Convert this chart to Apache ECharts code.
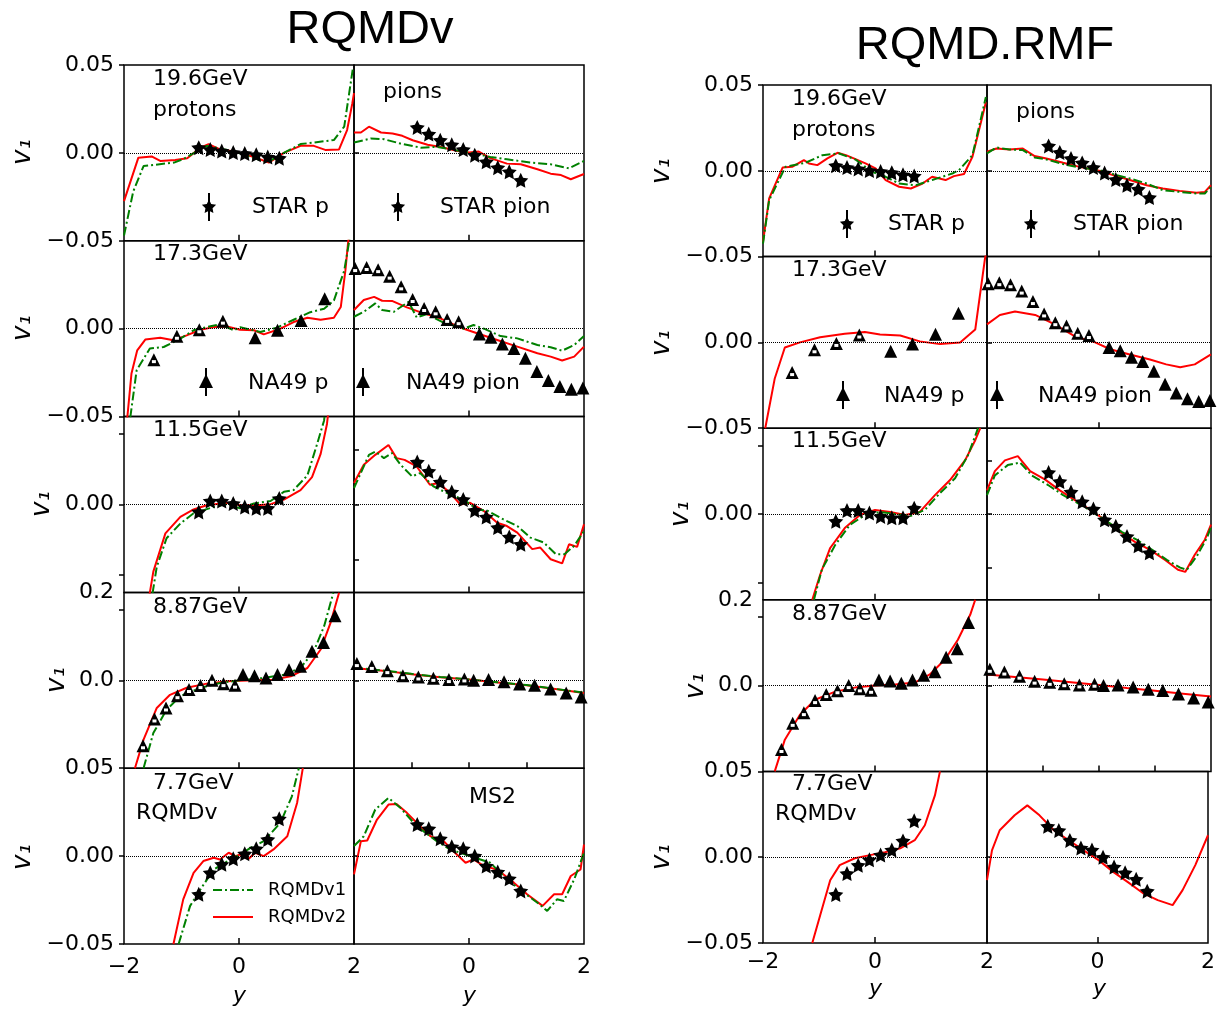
<!DOCTYPE html>
<html>
<head>
<meta charset="utf-8">
<script src="https://cdn.jsdelivr.net/npm/echarts@6/dist/echarts.min.js"></script>
<style>
  body { margin: 0; background: #fff; }
  #main { width: 1218px; height: 1009px; }
</style>
</head>
<body>
<div id="main"></div>
<script>
// ---- measured data (STAR / NA49), shared by both model panels ----
const starP196 = [[-0.7,0.003],[-0.5,0.0019],[-0.3,0.0011],[-0.1,0.0002],[0.1,-0.0004],[0.3,-0.0011],[0.5,-0.0023],[0.7,-0.003]];
const starPi196 = [[-0.9,0.0145],[-0.7,0.0107],[-0.5,0.0072],[-0.3,0.0046],[-0.1,0.0019],[0.1,-0.0013],[0.3,-0.0051],[0.5,-0.0084],[0.7,-0.0107],[0.9,-0.0156]];
const na49P173Open = [[-1.48,-0.0176],[-1.08,-0.0043],[-0.69,-0.0006],[-0.28,0.0043]];
const na49P173 = [[0.28,-0.0051],[0.67,-0.0009],[1.08,0.0047],[1.49,0.017]];
const na49Pi173Open = [[-1.98,0.0342],[-1.78,0.0348],[-1.58,0.0336],[-1.38,0.0299],[-1.18,0.0238],[-0.98,0.0166],[-0.78,0.0115],[-0.58,0.0096],[-0.38,0.0053],[-0.18,0.004]];
const na49Pi173 = [[0.18,-0.003],[0.38,-0.0049],[0.58,-0.0087],[0.78,-0.0112],[0.98,-0.0168],[1.18,-0.0244],[1.38,-0.0295],[1.58,-0.0329],[1.78,-0.0344],[1.98,-0.0338]];
const starP115 = [[-0.7,-0.0021],[-0.5,0.001],[-0.3,0.001],[-0.1,0.0003],[0.1,-0.0007],[0.3,-0.0011],[0.5,-0.0011],[0.7,0.0017]];
const starPi115 = [[-0.9,0.0193],[-0.7,0.0151],[-0.5,0.0102],[-0.3,0.0057],[-0.1,0.0023],[0.1,-0.0027],[0.3,-0.0057],[0.5,-0.0105],[0.7,-0.0148],[0.9,-0.0181]];
const na49P887Open = [[-1.67,-0.149],[-1.47,-0.088],[-1.27,-0.063],[-1.07,-0.035],[-0.87,-0.021],[-0.67,-0.012],[-0.47,0],[-0.27,-0.0076],[-0.07,-0.011]];
const na49P887 = [[0.07,0.013],[0.27,0.0106],[0.47,0.0053],[0.67,0.013],[0.87,0.024],[1.07,0.032],[1.27,0.066],[1.47,0.086],[1.67,0.147]];
const na49Pi887Open = [[-1.95,0.0095],[-1.69,0.0079],[-1.42,0.0055],[-1.15,0.0026],[-0.88,0.0019],[-0.62,0.0011],[-0.35,0.0004],[-0.08,0.0008]];
const na49Pi887 = [[0.08,0],[0.34,0.0004],[0.61,-0.0008],[0.88,-0.0021],[1.14,-0.0028],[1.42,-0.0049],[1.69,-0.0072],[1.95,-0.0095]];
const starP77 = [[-0.7,-0.0217],[-0.5,-0.0095],[-0.3,-0.0047],[-0.1,-0.0015],[0.1,0.0013],[0.3,0.0042],[0.5,0.0095],[0.7,0.0212]];
const starPi77 = [[-0.9,0.018],[-0.7,0.0155],[-0.5,0.0098],[-0.3,0.0053],[-0.1,0.0042],[0.1,0],[0.3,-0.0057],[0.5,-0.0091],[0.7,-0.0129],[0.9,-0.0198]];

// ---- RQMDv curves (v2 = red, v1 = green) ----
const vP196Red = [[-2,-0.0274],[-1.75,-0.0027],[-1.52,-0.002],[-1.37,-0.0046],[-1.11,-0.004],[-0.9,-0.003],[-0.67,0.003],[-0.53,0.005],[-0.33,0.002],[-0.1,0.001],[0.26,-0.0023],[0.52,-0.0055],[0.78,0],[1.07,0.004],[1.3,0.004],[1.5,0.0017],[1.74,0.002],[1.88,0.013],[1.97,0.028],[2,0.034]];
const vP196Green = [[-2,-0.047],[-1.84,-0.022],[-1.66,-0.0075],[-1.13,-0.0055],[-0.97,-0.0035],[-0.56,0.004],[-0.1,0.001],[0.49,-0.0055],[0.78,0],[1.07,0.005],[1.65,0.0073],[1.83,0.015],[1.98,0.048]];
const vPi196Red = [[-2,0.0116],[-1.88,0.0116],[-1.74,0.0149],[-1.53,0.0116],[-1.33,0.011],[-1.16,0.0097],[-0.98,0.0072],[-0.72,0.0046],[-0.49,0.0034],[-0.2,0.0011],[0,0.0002],[0.17,0.0008],[0.37,-0.003],[0.66,-0.0061],[0.9,-0.0065],[1.19,-0.0093],[1.42,-0.0118],[1.6,-0.0126],[1.77,-0.015],[2,-0.012]];
const vPi196Green = [[-2,0.0059],[-1.71,0.0082],[-1.48,0.0078],[-1.19,0.0053],[-0.84,0.003],[-0.56,0.0034],[-0.33,0.0021],[0,0.0002],[0.37,-0.0023],[0.66,-0.0036],[1.06,-0.0055],[1.42,-0.0065],[1.74,-0.0088],[2,-0.0046]];
const vP173Red = [[-1.97,-0.06],[-1.87,-0.0255],[-1.77,-0.0123],[-1.63,-0.0062],[-1.37,-0.0051],[-1.14,-0.0066],[-0.91,-0.0038],[-0.67,-0.0006],[-0.44,0.0009],[-0.21,0.0013],[0.02,-0.0006],[0.26,-0.0009],[0.43,-0.0032],[0.72,0],[0.95,0.0038],[1.19,0.0062],[1.42,0.0051],[1.65,0.0062],[1.77,0.0123],[1.85,0.033],[1.93,0.06]];
const vP173Green = [[-1.93,-0.06],[-1.78,-0.0236],[-1.55,-0.0113],[-1.31,-0.0104],[-1.02,-0.0057],[-0.79,-0.0009],[-0.56,0.0009],[-0.33,0.0025],[-0.09,-0.0009],[0.02,0.0009],[0.37,-0.0019],[0.66,0.0006],[0.95,0.0051],[1.24,0.0094],[1.48,0.0113],[1.65,0.016],[1.83,0.033],[1.97,0.06]];
const vPi173Red = [[-2,0.0106],[-1.83,0.0163],[-1.65,0.0181],[-1.51,0.0159],[-1.33,0.0157],[-1.08,0.0121],[-0.79,0.0087],[-0.5,0.0059],[-0.27,0.0025],[-0.09,0],[0.14,-0.0026],[0.49,-0.0064],[0.84,-0.0102],[1.19,-0.014],[1.42,-0.0159],[1.62,-0.0181],[1.83,-0.0159],[2,-0.0102]];
const vPi173Green = [[-2,0.0068],[-1.83,0.0096],[-1.63,0.0144],[-1.51,0.0106],[-1.31,0.0096],[-1.05,0.0153],[-0.91,0.0064],[-0.73,0.0083],[-0.44,0.0034],[-0.09,0],[0.08,0.0021],[0.26,0],[0.55,-0.0042],[0.84,-0.0055],[1.19,-0.0093],[1.42,-0.0106],[1.62,-0.0125],[1.83,-0.0093],[2,-0.0042]];
const vP115Red = [[-1.6,-0.03],[-1.49,-0.0191],[-1.28,-0.0082],[-1.02,-0.0035],[-0.79,-0.0014],[-0.56,-0.0002],[-0.21,0.0005],[0.02,-0.0002],[0.31,-0.0002],[0.55,0.0001],[0.78,0.0014],[1.07,0.0041],[1.27,0.0078],[1.42,0.0144],[1.53,0.0229],[1.58,0.03]];
const vP115Green = [[-1.55,-0.03],[-1.43,-0.0177],[-1.26,-0.0096],[-1.02,-0.0054],[-0.79,-0.0025],[-0.44,-0.0007],[-0.21,0.0001],[0.02,-0.0011],[0.26,0.0003],[0.55,0.001],[0.78,0.0036],[0.95,0.0041],[1.19,0.0083],[1.36,0.0173],[1.48,0.0239],[1.52,0.03]];
const vPi115Red = [[-2,0.0098],[-1.83,0.0181],[-1.63,0.0226],[-1.4,0.0271],[-1.26,0.0211],[-1.12,0.0203],[-0.91,0.0173],[-0.68,0.009],[-0.53,0.0098],[-0.33,0.0053],[-0.15,0],[0.02,0.0008],[0.26,-0.003],[0.49,-0.0083],[0.66,-0.0098],[0.84,-0.0128],[1.1,-0.0203],[1.24,-0.0196],[1.42,-0.0249],[1.62,-0.0268],[1.74,-0.0181],[1.88,-0.0193],[2,-0.009]];
const vPi115Green = [[-2,0.0075],[-1.74,0.0226],[-1.63,0.0241],[-1.48,0.0211],[-1.34,0.0234],[-1.19,0.0181],[-0.99,0.0128],[-0.85,0.0143],[-0.62,0.0083],[-0.33,0.0045],[-0.09,0.0023],[0.14,-0.0023],[0.31,-0.0027],[0.6,-0.0068],[0.84,-0.0098],[1.07,-0.0151],[1.3,-0.0173],[1.51,-0.0226],[1.66,-0.0226],[1.83,-0.0188],[2,-0.0121]];
const vP887Red = [[-1.81,-0.2],[-1.66,-0.135],[-1.43,-0.063],[-1.2,-0.033],[-0.91,-0.017],[-0.56,-0.0076],[-0.21,-0.0023],[0.26,0],[0.6,0.0015],[0.9,0.0091],[1.19,0.028],[1.42,0.07],[1.59,0.13],[1.74,0.199]];
const vP887Green = [[-1.66,-0.2],[-1.49,-0.12],[-1.26,-0.067],[-1.02,-0.036],[-0.67,-0.017],[-0.33,-0.006],[0.02,0],[0.43,0.0053],[0.78,0.0129],[1.07,0.028],[1.3,0.066],[1.48,0.123],[1.64,0.199]];
const vPi887Red = [[-2,0.007],[-1.5,0.0055],[-1,0.0035],[-0.5,0.0018],[0,0.0004],[0.5,-0.0012],[1,-0.0028],[1.5,-0.005],[2,-0.0072]];
const vPi887Green = [[-2,0.0072],[-1.5,0.0056],[-1,0.0037],[-0.5,0.0019],[0,0.0005],[0.5,-0.0011],[1,-0.0027],[1.5,-0.0049],[2,-0.007]];
const vP77Red = [[-1.14,-0.05],[-0.97,-0.0246],[-0.79,-0.0095],[-0.62,-0.0028],[-0.44,-0.0009],[-0.33,-0.0019],[-0.18,0.0019],[-0.06,0],[0.02,0.0009],[0.17,-0.0015],[0.28,0.0019],[0.43,0],[0.6,0.0038],[0.84,0.0113],[1.01,0.0302],[1.11,0.05]];
const vP77Green = [[-1.05,-0.05],[-0.85,-0.0283],[-0.67,-0.0189],[-0.44,-0.0076],[-0.15,-0.0019],[0.02,0.0009],[0.2,0.0047],[0.43,0.0085],[0.72,0.0189],[0.92,0.034],[1.04,0.05]];
const vPi77Red = [[-2,-0.0104],[-1.88,0.0085],[-1.77,0.0089],[-1.6,0.0208],[-1.4,0.0293],[-1.26,0.0297],[-1.08,0.0246],[-0.85,0.017],[-0.67,0.0113],[-0.44,0.0085],[-0.27,0.0028],[-0.06,-0.0038],[0.08,-0.0019],[0.26,-0.0057],[0.49,-0.0076],[0.78,-0.0151],[1.01,-0.0217],[1.28,-0.0283],[1.48,-0.0217],[1.62,-0.0217],[1.77,-0.0113],[1.94,-0.0076],[2,0.0066]];
const vPi77Green = [[-2,0.0057],[-1.83,0.0113],[-1.63,0.0265],[-1.4,0.0331],[-1.19,0.0274],[-0.91,0.017],[-0.56,0.0085],[-0.33,0.0038],[0.02,0],[0.37,-0.0038],[0.66,-0.0132],[0.95,-0.0208],[1.19,-0.0265],[1.36,-0.0312],[1.53,-0.0246],[1.65,-0.0255],[1.83,-0.0132],[2,0.0019]];

// ---- RQMD.RMF curves ----
const rP196Red = [[-2,-0.0414],[-1.89,-0.0161],[-1.65,0.0019],[-1.48,0.0023],[-1.27,0.0062],[-1.18,0.0043],[-1.03,0.0033],[-0.85,0.0072],[-0.67,0.0105],[-0.52,0.0091],[-0.38,0.0072],[-0.17,0.0043],[0.01,0.0014],[0.19,-0.0054],[0.43,-0.0093],[0.64,-0.0103],[0.85,-0.0074],[1.02,-0.0035],[1.26,-0.0054],[1.41,-0.0031],[1.59,-0.0019],[1.74,0.0082],[1.98,0.04]];
const rP196Green = [[-2,-0.0424],[-1.89,-0.0171],[-1.6,0.0023],[-1.24,0.0047],[-0.94,0.0091],[-0.64,0.0101],[-0.35,0.0066],[-0.05,-0.0006],[0.19,-0.0035],[0.43,-0.0074],[0.73,-0.0084],[1.02,-0.0054],[1.38,-0.0016],[1.5,0.0004],[1.74,0.0091],[1.98,0.043]];
const rPi196Red = [[-2,0.0111],[-1.83,0.013],[-1.6,0.0124],[-1.36,0.013],[-1.15,0.0086],[-0.94,0.0072],[-0.64,0.0047],[-0.35,0.0023],[0,0],[0.25,-0.0025],[0.55,-0.0054],[0.85,-0.0084],[1.14,-0.0103],[1.44,-0.0117],[1.74,-0.0128],[1.89,-0.0123],[2,-0.0084]];
const rPi196Green = [[-2,0.0101],[-1.83,0.0136],[-1.6,0.0124],[-1.36,0.0121],[-1.15,0.0078],[-0.94,0.0066],[-0.64,0.0039],[-0.35,0.0019],[0,0.0004],[0.25,-0.0019],[0.55,-0.0045],[0.85,-0.0074],[1.14,-0.0113],[1.44,-0.0123],[1.74,-0.0132],[1.89,-0.0132],[2,-0.0093]];
const rP173Red = [[-1.96,-0.05],[-1.79,-0.021],[-1.61,-0.003],[-1.34,0],[-0.98,0.003],[-0.54,0.005],[-0.18,0.006],[0.09,0.0046],[0.45,0.004],[0.8,0.0006],[1.16,-0.001],[1.52,0],[1.79,0.0075],[1.96,0.048],[2,0.055]];
const rPi173Red = [[-2,0.0105],[-1.77,0.016],[-1.5,0.018],[-1.14,0.016],[-0.79,0.0105],[-0.43,0.0035],[-0.07,0],[0.2,-0.004],[0.55,-0.007],[0.91,-0.01],[1.2,-0.0128],[1.45,-0.0145],[1.71,-0.0128],[2,-0.007]];
const rP115Red = [[-1.12,-0.025],[-0.98,-0.0177],[-0.8,-0.0099],[-0.54,-0.0041],[-0.27,-0.0003],[0,0.0012],[0.27,0.0006],[0.54,-0.0003],[0.8,0.0006],[1.07,0.0055],[1.34,0.0099],[1.61,0.0157],[1.79,0.0215],[1.88,0.025]];
const rP115Green = [[-1.09,-0.025],[-0.95,-0.0162],[-0.71,-0.009],[-0.45,-0.0032],[-0.18,-0.0003],[0.09,0.0006],[0.36,0],[0.63,-0.0006],[0.89,0.0012],[1.16,0.0061],[1.43,0.0104],[1.66,0.0171],[1.84,0.025]];
const rPi115Red = [[-2,0.011],[-1.86,0.02],[-1.68,0.025],[-1.45,0.027],[-1.23,0.02],[-0.96,0.016],[-0.7,0.011],[-0.43,0.0065],[-0.16,0.002],[0.11,-0.0028],[0.38,-0.0084],[0.64,-0.013],[0.91,-0.0167],[1.18,-0.0214],[1.41,-0.026],[1.54,-0.027],[1.71,-0.019],[1.89,-0.012],[2,-0.005]];
const rPi115Green = [[-2,0.0088],[-1.86,0.018],[-1.63,0.0228],[-1.41,0.024],[-1.2,0.018],[-0.91,0.0135],[-0.64,0.0088],[-0.38,0.0051],[-0.11,0.0009],[0.16,-0.0037],[0.41,-0.0084],[0.68,-0.0121],[0.95,-0.0167],[1.21,-0.0214],[1.45,-0.025],[1.57,-0.026],[1.75,-0.0195],[1.93,-0.011],[2,-0.006]];
const rP887Red = [[-1.79,-0.2],[-1.61,-0.126],[-1.34,-0.068],[-1.07,-0.033],[-0.71,-0.014],[-0.36,-0.0047],[0,0],[0.36,0.0023],[0.71,0.007],[0.98,0.026],[1.25,0.061],[1.48,0.107],[1.7,0.165],[1.79,0.2]];
const rPi887Red = [[-2,0.0064],[-1.5,0.005],[-1,0.0035],[-0.5,0.0019],[0,0.0003],[0.5,-0.0014],[1,-0.003],[1.5,-0.0047],[2,-0.0064]];
const rP77Red = [[-1.12,-0.05],[-0.98,-0.034],[-0.8,-0.0134],[-0.63,-0.0046],[-0.36,-0.0006],[-0.09,0.0012],[0.18,0.0029],[0.45,0.0052],[0.71,0.0099],[0.89,0.0186],[1.07,0.036],[1.16,0.05]];
const rPi77Red = [[-2,-0.0134],[-1.91,0.004],[-1.77,0.0157],[-1.5,0.0244],[-1.27,0.0302],[-1.05,0.0244],[-0.79,0.0157],[-0.52,0.0099],[-0.25,0.004],[0.02,-0.0017],[0.29,-0.0087],[0.55,-0.0145],[0.82,-0.0209],[1.09,-0.025],[1.36,-0.0279],[1.54,-0.0192],[1.77,-0.0046],[2,0.0128]];

// axis ranges (half-width of v1 axis) per row, [left col, right col]
const yHalf = [[0.05, 0.05], [0.05, 0.05], [0.025, 0.04], [0.2, 0.05], [0.05, 0.05]];
const yLabelVals = [[0.05, 0, -0.05], [0, -0.05], [0], [0.2, 0], [0.05, 0, -0.05]];
const yTickVals = [[0.05, 0, -0.05], [0, -0.05], [-0.02, 0, 0.02], [0.16, 0], [0.05, 0, -0.05]];
const yRightTicks = [[0], [0], [-0.025, 0, 0.025], [0], [0]];

const cells = [
  { p: 0, r: 0, c: 0, red: vP196Red, green: vP196Green, pts: starP196, sym: 'star' },
  { p: 0, r: 0, c: 1, red: vPi196Red, green: vPi196Green, pts: starPi196, sym: 'star' },
  { p: 0, r: 1, c: 0, red: vP173Red, green: vP173Green, open: na49P173Open, pts: na49P173, sym: 'tri' },
  { p: 0, r: 1, c: 1, red: vPi173Red, green: vPi173Green, open: na49Pi173Open, pts: na49Pi173, sym: 'tri' },
  { p: 0, r: 2, c: 0, red: vP115Red, green: vP115Green, pts: starP115, sym: 'star' },
  { p: 0, r: 2, c: 1, red: vPi115Red, green: vPi115Green, pts: starPi115, sym: 'star' },
  { p: 0, r: 3, c: 0, red: vP887Red, green: vP887Green, open: na49P887Open, pts: na49P887, sym: 'tri' },
  { p: 0, r: 3, c: 1, red: vPi887Red, green: vPi887Green, open: na49Pi887Open, pts: na49Pi887, sym: 'tri' },
  { p: 0, r: 4, c: 0, red: vP77Red, green: vP77Green, pts: starP77, sym: 'star' },
  { p: 0, r: 4, c: 1, red: vPi77Red, green: vPi77Green, pts: starPi77, sym: 'star' },
  { p: 1, r: 0, c: 0, red: rP196Red, green: rP196Green, pts: starP196, sym: 'star' },
  { p: 1, r: 0, c: 1, red: rPi196Red, green: rPi196Green, pts: starPi196, sym: 'star' },
  { p: 1, r: 1, c: 0, red: rP173Red, open: na49P173Open, pts: na49P173, sym: 'tri' },
  { p: 1, r: 1, c: 1, red: rPi173Red, open: na49Pi173Open, pts: na49Pi173, sym: 'tri' },
  { p: 1, r: 2, c: 0, red: rP115Red, green: rP115Green, pts: starP115, sym: 'star' },
  { p: 1, r: 2, c: 1, red: rPi115Red, green: rPi115Green, pts: starPi115, sym: 'star' },
  { p: 1, r: 3, c: 0, red: rP887Red, open: na49P887Open, pts: na49P887, sym: 'tri' },
  { p: 1, r: 3, c: 1, red: rPi887Red, open: na49Pi887Open, pts: na49Pi887, sym: 'tri' },
  { p: 1, r: 4, c: 0, red: rP77Red, pts: starP77, sym: 'star' },
  { p: 1, r: 4, c: 1, red: rPi77Red, pts: starPi77, sym: 'star' }
];

const layout = [
  { left: 124, colW: 230, top: 65, h: 175.8, xMargin: 12 },
  { left: 763, colW: 224, top: 85, h: 171.6, xMargin: 8 }
];

const FONT = 'DejaVu Sans';
// five-point star outline, unit radius 10
const STAR_PTS = [[0,-10],[2.94,-4.05],[9.51,-3.09],[4.76,1.55],[5.88,8.09],[0,5],[-5.88,8.09],[-4.76,1.55],[-9.51,-3.09],[-2.94,-4.05]];
const STAR = 'path://M' + STAR_PTS.map(p => p.join(',')).join('L') + 'Z';
const minus = v => (v < -1e-9 ? '\u2212' : '') + Math.abs(v);
const fmtY = dec => v => (v < -1e-9 ? '\u2212' : '') + Math.abs(v).toFixed(dec);

const grids = [], xAxes = [], yAxes = [], series = [];
cells.forEach((cell, i) => {
  const L = layout[cell.p];
  grids.push({
    left: L.left + cell.c * L.colW, top: L.top + cell.r * L.h,
    width: L.colW, height: L.h,
    show: true, borderColor: '#000', borderWidth: 1.5
  });
  const lastRow = cell.r === 4;
  xAxes.push({
    gridIndex: i, type: 'value', min: -2, max: 2,
    splitLine: { show: false }, axisLine: { show: false, onZero: false },
    axisTick: {
      show: true, inside: true, length: 6,
      customValues: (cell.r === 3 && cell.c === 1) ? [-1, 0, 1] : [0],
      lineStyle: { color: '#000', width: 1.5 }
    },
    axisLabel: lastRow ? {
      show: true, customValues: cell.c === 0 ? [-2, 0, 2] : [0, 2],
      formatter: minus, fontSize: 22, color: '#000', fontFamily: FONT, margin: L.xMargin
    } : { show: false }
  });
  const h = yHalf[cell.r][cell.c];
  yAxes.push({
    gridIndex: i, type: 'value', min: -h, max: h,
    splitLine: { show: false }, axisLine: { show: false, onZero: false },
    axisTick: {
      show: true, inside: cell.c === 1, length: 5,
      customValues: cell.c === 0 ? yTickVals[cell.r] : yRightTicks[cell.r],
      lineStyle: { color: '#000', width: 1.5 }
    },
    axisLabel: cell.c === 0 ? {
      show: true, customValues: yLabelVals[cell.r],
      formatter: fmtY(cell.r === 3 ? 1 : 2),
      fontSize: 22, color: '#000', fontFamily: FONT, margin: 10
    } : { show: false }
  });

  series.push({
    type: 'line', xAxisIndex: i, yAxisIndex: i, data: cell.red,
    showSymbol: false, z: 3,
    lineStyle: { color: '#ff0000', width: 2 },
    markLine: {
      silent: true, symbol: ['none', 'none'], label: { show: false },
      lineStyle: { color: '#000', type: 'dotted', width: 1 },
      data: [{ yAxis: 0 }]
    }
  });
  if (cell.green) {
    series.push({
      type: 'line', xAxisIndex: i, yAxisIndex: i, data: cell.green,
      showSymbol: false, z: 3,
      lineStyle: { color: '#008000', width: 2, type: [9, 3, 2, 3] }
    });
  }
  const symbol = cell.sym === 'star' ? STAR : 'triangle';
  const size = cell.sym === 'star' ? 15 : 13;
  if (cell.open) {
    // reflected points: dark triangle with a small white core
    series.push({
      type: 'scatter', xAxisIndex: i, yAxisIndex: i, data: cell.open,
      symbol, symbolSize: size, z: 4,
      itemStyle: { color: '#000', opacity: 1 }
    });
    series.push({
      type: 'scatter', xAxisIndex: i, yAxisIndex: i, data: cell.open,
      symbol: 'rect', symbolSize: [4, 3], symbolOffset: [0, 2], z: 5,
      itemStyle: { color: '#fff', opacity: 1 }
    });
  }
  series.push({
    type: 'scatter', xAxisIndex: i, yAxisIndex: i, data: cell.pts,
    symbol, symbolSize: size, z: 4,
    itemStyle: { color: '#000', opacity: 1 }
  });
});

// ---- text and in-axes legends ----
const graphic = [];
const txt = (x, y, s, size, font) => graphic.push({
  type: 'text', silent: true,
  style: { text: s, x, y, font: font || (size + 'px "' + FONT + '"'), fill: '#000', textAlign: 'left', textVerticalAlign: 'middle' }
});
const vlabel = (x, y) => graphic.push({
  type: 'text', silent: true, x, y, rotation: Math.PI / 2,
  style: { text: 'v\u2081', x: 0, y: 0, font: 'italic 26px "' + FONT + '"', fill: '#000', textAlign: 'center', textVerticalAlign: 'middle' }
});
const errBar = (cx, cy) => graphic.push({ type: 'line', silent: true, shape: { x1: cx, y1: cy - 14, x2: cx, y2: cy + 14 }, style: { stroke: '#000', lineWidth: 2 } });
const starLegend = (cx, cy) => {
  errBar(cx, cy);
  graphic.push({ type: 'polygon', silent: true, shape: { points: STAR_PTS.map(p => [cx + p[0] * 0.75, cy + p[1] * 0.75]) }, style: { fill: '#000' } });
};
const triLegend = (cx, cy) => {
  errBar(cx, cy);
  graphic.push({ type: 'polygon', silent: true, shape: { points: [[cx, cy - 8], [cx - 7, cy + 6], [cx + 7, cy + 6]] }, style: { fill: '#000' } });
};

// titles
graphic.push({ type: 'text', silent: true, style: { text: 'RQMDv', x: 370, y: 30, font: '47px "Liberation Sans"', fill: '#000', textAlign: 'center', textVerticalAlign: 'middle' } });
graphic.push({ type: 'text', silent: true, style: { text: 'RQMD.RMF', x: 985, y: 46, font: '47px "Liberation Sans"', fill: '#000', textAlign: 'center', textVerticalAlign: 'middle' } });

// left panel texts
txt(153, 79, '19.6GeV', 22); txt(153, 110, 'protons', 22); txt(383, 92, 'pions', 22);
starLegend(209, 207); txt(252, 207, 'STAR p', 22);
starLegend(398, 207); txt(440, 207, 'STAR pion', 22);
txt(153, 254, '17.3GeV', 22);
triLegend(206, 382); txt(248, 383, 'NA49 p', 22);
triLegend(363, 382); txt(406, 383, 'NA49 pion', 22);
txt(153, 430, '11.5GeV', 22); txt(153, 607, '8.87GeV', 22);
txt(153, 783, '7.7GeV', 22); txt(136, 813, 'RQMDv', 22); txt(469, 797, 'MS2', 22);
graphic.push({ type: 'line', silent: true, shape: { x1: 213, y1: 890, x2: 253, y2: 890 }, style: { stroke: '#008000', lineWidth: 2, lineDash: [9, 3, 2, 3] } });
txt(268, 890, 'RQMDv1', 18);
graphic.push({ type: 'line', silent: true, shape: { x1: 213, y1: 917, x2: 253, y2: 917 }, style: { stroke: '#ff0000', lineWidth: 2 } });
txt(268, 917, 'RQMDv2', 18);

// right panel texts
txt(792, 99, '19.6GeV', 22); txt(792, 130, 'protons', 22); txt(1016, 112, 'pions', 22);
starLegend(847, 224); txt(888, 224, 'STAR p', 22);
starLegend(1031, 224); txt(1073, 224, 'STAR pion', 22);
txt(792, 270, '17.3GeV', 22);
triLegend(843, 395); txt(884, 396, 'NA49 p', 22);
triLegend(997, 395); txt(1038, 396, 'NA49 pion', 22);
txt(792, 441, '11.5GeV', 22); txt(792, 614, '8.87GeV', 22);
txt(792, 784, '7.7GeV', 22); txt(775, 814, 'RQMDv', 22);

// axis titles
[[23, 152], [23, 328], [42, 504], [57, 680], [23, 857],
 [662, 171], [662, 343], [681, 514], [696, 686], [662, 857]].forEach(p => vlabel(p[0], p[1]));
[[233, 996], [463, 996], [869, 989], [1093, 989]].forEach(p =>
  txt(p[0], p[1], 'y', 22, 'italic 22px "' + FONT + '"'));

var chartDom = document.getElementById('main');
var myChart = echarts.init(chartDom);
var option = {
  backgroundColor: '#fff',
  animation: false,
  grid: grids,
  xAxis: xAxes,
  yAxis: yAxes,
  series: series,
  graphic: graphic
};
myChart.setOption(option);
</script>
</body>
</html>
